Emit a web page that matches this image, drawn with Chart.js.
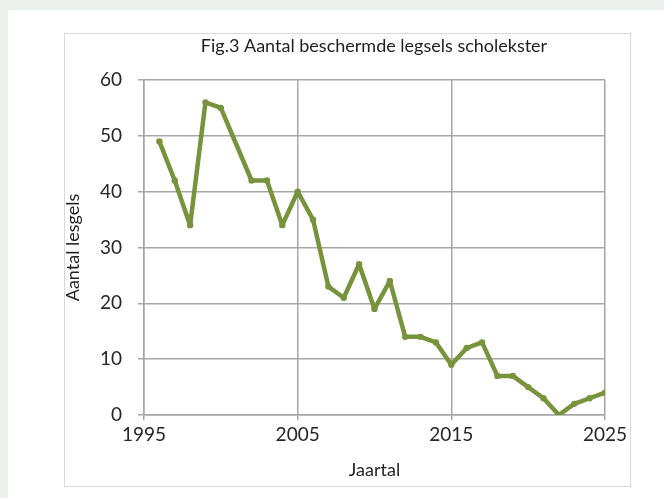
<!DOCTYPE html>
<html>
<head>
<meta charset="utf-8">
<script src="https://cdn.jsdelivr.net/npm/chart.js@4"></script>
<style>
html,body{margin:0;padding:0;}
body{width:664px;height:498px;background:#edf1ee;position:relative;overflow:hidden;}
#panel{position:absolute;left:8px;top:10px;width:656px;height:488px;background:#fff;}
#frame{position:absolute;left:64px;top:33px;width:565px;height:452px;border:1px solid #d9d9d9;background:#fff;}
canvas{display:block;}
</style>
</head>
<body>
<div id="panel"></div>
<div id="frame"><canvas id="c" width="565" height="452"></canvas></div>
<script>
const years = [1996,1997,1998,1999,2000,2002,2003,2004,2005,2006,2007,2008,2009,2010,2011,2012,2013,2014,2015,2016,2017,2018,2019,2020,2021,2022,2023,2024,2025];
const legsels = [49,42,34,56,55,42,42,34,40,35,23,21,27,19,24,14,14,13,9,12,13,7,7,5,3,0,2,3,4];
const xTicks = [1995,2005,2015,2025];
const yTicks = [0,10,20,30,40,50,60];
const titleText = 'Fig.3 Aantal beschermde legsels scholekster';
const xTitle = 'Jaartal';
const yTitle = 'Aantal lesgels';

const FONT = 'Lato, "Open Sans", sans-serif';
const green = '#77933c';
const grid = '#a6a6a6';

const titlePlugin = {
  id: 'figTitle',
  afterDraw(chart) {
    const ctx = chart.ctx;
    ctx.save();
    ctx.font = '18px ' + FONT;
    ctx.fillStyle = '#1f1f1f';
    ctx.textAlign = 'center';
    ctx.textBaseline = 'middle';
    ctx.fillText(titleText, 309, 12);
    ctx.restore();
  }
};

new Chart(document.getElementById('c'), {
  type: 'line',
  data: {
    datasets: [{
      data: years.map((y, i) => ({x: y, y: legsels[i]})),
      borderColor: green,
      backgroundColor: green,
      borderWidth: 4.5,
      pointRadius: 3.2,
      pointBorderWidth: 0,
      pointBackgroundColor: green,
      borderJoinStyle: 'round',
      borderCapStyle: 'round',
      tension: 0
    }]
  },
  plugins: [titlePlugin],
  options: {
    responsive: false,
    animation: false,
    devicePixelRatio: 1,
    layout: {padding: {left: 0, right: 24, top: 46, bottom: 0}},
    plugins: {
      legend: {display: false},
      tooltip: {enabled: false},
      title: {display: false}
    },
    scales: {
      x: {
        type: 'linear',
        min: 1995, max: 2025,
        afterBuildTicks: s => { s.ticks = xTicks.map(v => ({value: v})); },
        afterFit: s => { s.height = 71; },
        ticks: {
          color: '#262626',
          font: {family: FONT, size: 19},
          padding: 3,
          maxRotation: 0,
          callback: v => String(v)
        },
        grid: {color: grid, lineWidth: 1.5, tickLength: 5, drawTicks: true},
        border: {color: grid, width: 1.5},
        title: {
          display: true, text: xTitle, color: '#1f1f1f',
          font: {family: FONT, size: 18, lineHeight: 1},
          padding: {top: 0, bottom: 7}
        }
      },
      y: {
        min: 0, max: 60,
        afterBuildTicks: s => { s.ticks = yTicks.map(v => ({value: v})); },
        afterFit: s => { s.width = 79; },
        ticks: {
          color: '#262626',
          font: {family: FONT, size: 19},
          padding: 16
        },
        grid: {color: grid, lineWidth: 1.5, tickLength: 6, drawTicks: true},
        border: {color: grid, width: 1.5},
        title: {
          display: true, text: yTitle, color: '#1f1f1f',
          font: {family: FONT, size: 18, lineHeight: 1},
          padding: {top: -1, bottom: 0}
        }
      }
    }
  }
});
</script>
</body>
</html>
